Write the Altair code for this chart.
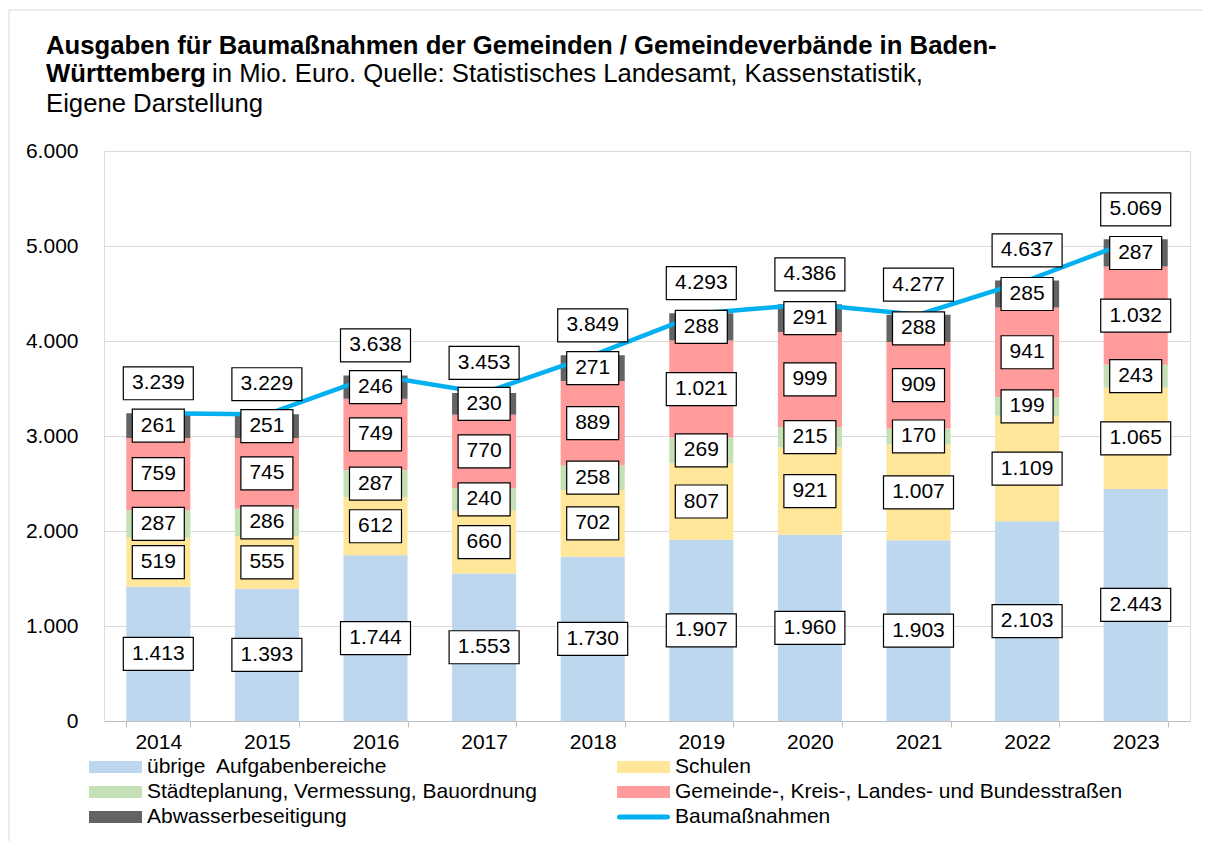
import altair as alt
import pandas as pd

FONT = "Liberation Sans"

years = ["2014", "2015", "2016", "2017", "2018", "2019", "2020", "2021", "2022", "2023"]
categories = [
    "übrige\u00a0 Aufgabenbereiche",
    "Schulen",
    "Städteplanung, Vermessung, Bauordnung",
    "Gemeinde-, Kreis-, Landes- und Bundesstraßen",
    "Abwasserbeseitigung",
]
line_name = "Baumaßnahmen"

uebrige = [1413, 1393, 1744, 1553, 1730, 1907, 1960, 1903, 2103, 2443]
schulen = [519, 555, 612, 660, 702, 807, 921, 1007, 1109, 1065]
staedte = [287, 286, 287, 240, 258, 269, 215, 170, 199, 243]
strassen = [759, 745, 749, 770, 889, 1021, 999, 909, 941, 1032]
abwasser = [261, 251, 246, 230, 271, 288, 291, 288, 285, 287]
gesamt = [3239, 3229, 3638, 3453, 3849, 4293, 4386, 4277, 4637, 5069]

colors = ["#BDD7EE", "#FFE699", "#C5E0B4", "#FF9B9B", "#636363"]
line_color = "#00B0F0"

title_1 = "Ausgaben für Baumaßnahmen der Gemeinden / Gemeindeverbände in Baden-"
title_2b = "Württemberg"
title_2 = "in Mio. Euro. Quelle: Statistisches Landesamt, Kassenstatistik,"
title_3 = "Eigene Darstellung"


def fmt(v):
    return f"{v:,}".replace(",", ".")


series = [uebrige, schulen, staedte, strassen, abwasser]
rows = []
for i, y in enumerate(years):
    for k, (c, s) in enumerate(zip(categories, series)):
        rows.append(dict(Jahr=y, Kategorie=c, idx=k, Wert=s[i], label=fmt(s[i]),
                         n=len(fmt(s[i]))))
seg = pd.DataFrame(rows)
tot = pd.DataFrame(dict(Jahr=years, Gesamt=gesamt, label=[fmt(v) for v in gesamt],
                        n=[len(fmt(v)) for v in gesamt]))

x_axis = alt.Axis(title=None, labelAngle=0, labelFont=FONT, labelFontSize=21,
                  labelColor="#000000", domainColor="#bfbfbf", tickColor="#bfbfbf",
                  tickSize=6, tickBand="extent", labelPadding=4, grid=False)
y_axis = alt.Axis(title=None, values=[0, 1000, 2000, 3000, 4000, 5000, 6000],
                  labelExpr="replace(format(datum.value, ','), ',', '.')",
                  domain=False, ticks=False, gridColor="#d9d9d9", gridWidth=1,
                  labelFont=FONT, labelFontSize=21, labelColor="#000000", labelPadding=26)
x_scale = alt.Scale(domain=years, paddingInner=0.41, paddingOuter=0.205)
y_scale = alt.Scale(domain=[0, 6000], nice=False)

X = alt.X("Jahr:N", scale=x_scale, axis=x_axis, sort=years)

stacked = alt.Chart(seg).transform_stack(
    stack="Wert", groupby=["Jahr"], as_=["y0", "y1"], sort=[alt.SortField("idx")]
).transform_calculate(mid="(datum.y0 + datum.y1) / 2")

bars = stacked.mark_bar().encode(
    x=X,
    y=alt.Y("y0:Q", scale=y_scale, axis=y_axis),
    y2="y1:Q",
    color=alt.Color("Kategorie:N", scale=alt.Scale(domain=categories, range=colors), legend=None),
)

line = alt.Chart(tot).mark_line(color=line_color, strokeWidth=4.5, strokeCap="round").encode(
    x=X, y=alt.Y("Gesamt:Q", scale=y_scale, axis=y_axis)
)

BOX5 = "M-1,-0.4714H1V0.4714H-1Z"
BOX3 = "M-0.7429,-0.4714H0.7429V0.4714H-0.7429Z"


def boxes(src, ycol, n, shape):
    return src.transform_filter(f"datum.n == {n}").mark_point(
        shape=shape, size=4900, filled=True, fill="white", stroke="black",
        strokeWidth=1.2, opacity=1
    ).encode(x=X, y=alt.Y(f"{ycol}:Q", scale=y_scale, axis=y_axis))


seg_box3 = boxes(stacked, "mid", 3, BOX3)
seg_box5 = boxes(stacked, "mid", 5, BOX5)
seg_text = stacked.mark_text(font=FONT, fontSize=21, color="black", baseline="middle").encode(
    x=X, y=alt.Y("mid:Q", scale=y_scale, axis=y_axis), text="label:N"
)

tot_src = alt.Chart(tot).transform_calculate(ly="datum.Gesamt + 316")
tot_box = boxes(tot_src, "ly", 5, BOX5)
tot_text = tot_src.mark_text(font=FONT, fontSize=21, color="black", baseline="middle").encode(
    x=X, y=alt.Y("ly:Q", scale=y_scale, axis=y_axis), text="label:N"
)

# legend: Vega fills the 2 columns top-to-bottom, so list column 1 first, then column 2
leg_names = [categories[0], categories[2], categories[4], categories[1], categories[3], line_name]
leg_colors = [colors[0], colors[2], colors[4], colors[1], colors[3], line_color]
RECT = "M-1,-0.2264H1V0.2264H-1Z"
LINE = "M-0.906,-0.0943H0.906A0.0943,0.0943 0 0 1 0.906,0.0943H-0.906A0.0943,0.0943 0 0 1 -0.906,-0.0943Z"
leg_shapes = [RECT, RECT, RECT, RECT, RECT, LINE]
legend_df = pd.DataFrame(dict(Kategorie=leg_names))
leg_props = dict(title=None, orient="none", legendX=-15, legendY=603.5, columns=2,
                 columnPadding=80, rowPadding=0, clipHeight=25, symbolSize=2809,
                 symbolStrokeWidth=0, symbolOffset=0, labelFont=FONT, labelFontSize=21,
                 labelColor="#000000", labelOffset=5, labelLimit=700, padding=0)
legend_layer = alt.Chart(legend_df).transform_filter("false").mark_point(
    filled=True, opacity=1
).encode(
    color=alt.Color("Kategorie:N", scale=alt.Scale(domain=leg_names, range=leg_colors),
                    legend=alt.Legend(**leg_props)),
    shape=alt.Shape("Kategorie:N", scale=alt.Scale(domain=leg_names, range=leg_shapes),
                    legend=alt.Legend(**leg_props)),
)

one = pd.DataFrame({"a": [1]})
TS = 25.7
t1 = alt.Chart(one).mark_text(text=title_1, font=FONT, fontSize=TS, fontWeight="bold",
                              align="left", baseline="alphabetic", color="black").encode(
    x=alt.value(-58), y=alt.value(-97))
t2b = alt.Chart(one).mark_text(text=title_2b, font=FONT, fontSize=TS, fontWeight="bold",
                               align="left", baseline="alphabetic", color="black").encode(
    x=alt.value(-58), y=alt.value(-69))
t2 = alt.Chart(one).mark_text(text=title_2, font=FONT, fontSize=TS,
                              align="left", baseline="alphabetic", color="black").encode(
    x=alt.value(108), y=alt.value(-69))
t3 = alt.Chart(one).mark_text(text=title_3, font=FONT, fontSize=TS,
                              align="left", baseline="alphabetic", color="black").encode(
    x=alt.value(-58), y=alt.value(-39))

frame_top = alt.Chart(one).mark_rule(color="#d9d9d9", strokeWidth=1).encode(
    x=alt.value(-95), x2=alt.value(1120), y=alt.value(-141))
frame_left = alt.Chart(one).mark_rule(color="#d9d9d9", strokeWidth=1).encode(
    x=alt.value(-95), y=alt.value(-141), y2=alt.value(700))

chart = alt.layer(
    frame_top, frame_left, t1, t2b, t2, t3,
    bars, line, seg_box3, seg_box5, seg_text, tot_box, tot_text, legend_layer
).resolve_scale(color="independent", shape="independent").properties(
    width=1086, height=570,
    padding={"left": 96, "top": 143, "right": 12, "bottom": 120},
    autosize=alt.AutoSizeParams(type="none"),
).configure_view(stroke=None).configure(background="white")

chart.save("out.html", embed_options={"renderer": "svg", "actions": False})
